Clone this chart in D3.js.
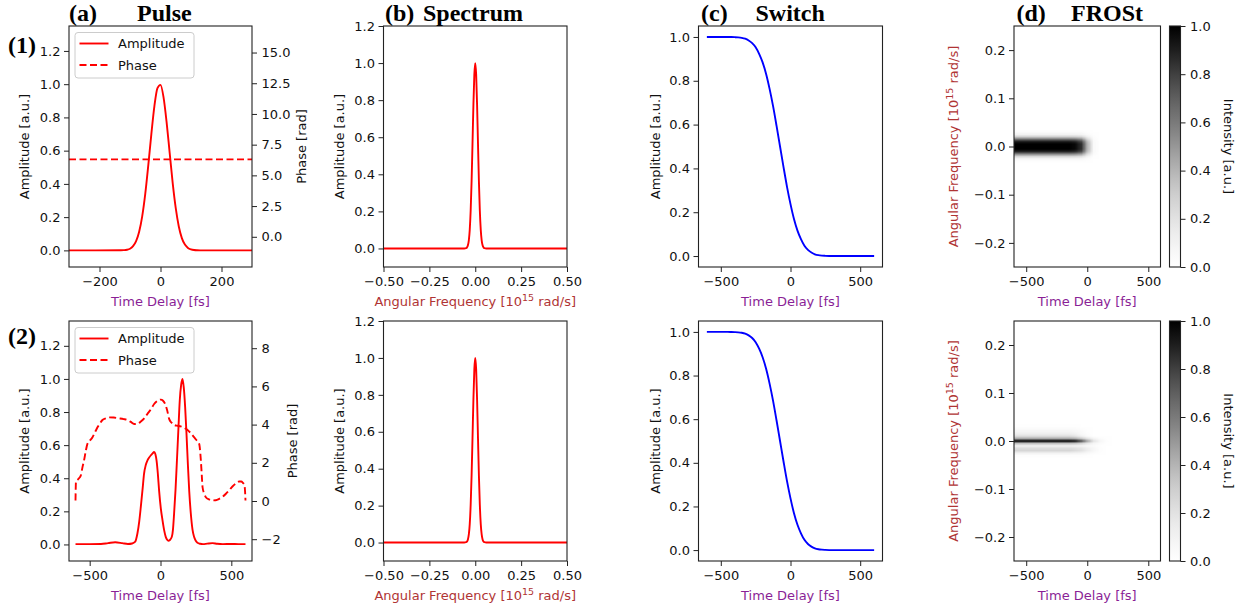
<!DOCTYPE html>
<html>
<head>
<meta charset="utf-8">
<script src="https://cdnjs.cloudflare.com/ajax/libs/d3/7.8.5/d3.min.js"></script>
<style>
  body { margin: 0; background: #fff; }
  svg text { font-family: "DejaVu Sans", sans-serif; }
  .tick text { font-size: 13px; fill: #111; }
  .tick line { stroke: #222; stroke-width: 1; }
  .title { font-family: "Liberation Serif", "Times New Roman", serif !important; font-weight: bold; font-size: 24px; }
</style>
</head>
<body>
<svg id="fig" width="1243" height="613"></svg>
<script>
// ---- data ----
const pulse1Time = [-300, -130, -120, -110, -100, -90, -80, -70, -60, -50, -40, -30, -20, -10, 0, 10, 20, 30, 40, 50, 60, 70, 80, 90, 100, 110, 120, 130, 300]
const pulse1Amp = [0, 0.0004, 0.0013, 0.0037, 0.010, 0.025, 0.055, 0.112, 0.205, 0.340, 0.513, 0.700, 0.868, 0.976, 0.996, 0.921, 0.772, 0.588, 0.405, 0.254, 0.144, 0.074, 0.035, 0.015, 0.006, 0.002, 0.0006, 0.0002, 0]
const phase1Time = [-300, 300]
const phase1 = [6.3, 6.3]

const pulse2Time = [-600, -500, -420, -370, -320, -270, -230, -200, -180, -163, -150, -139, -127, -116, -104, -92, -80, -68, -56, -45, -36, -28, -19, -10, 2, 14, 26, 37, 47, 56, 66, 80, 88, 96, 106, 115, 126, 136, 146, 155, 164, 174, 184, 193, 203, 214, 226, 237, 249, 261, 280, 300, 330, 367, 400, 440, 500, 550, 600]
const pulse2Amp = [0.002, 0.002, 0.003, 0.008, 0.013, 0.008, 0.003, 0.006, 0.015, 0.066, 0.14, 0.227, 0.33, 0.428, 0.48, 0.508, 0.525, 0.539, 0.55, 0.559, 0.545, 0.508, 0.43, 0.327, 0.22, 0.147, 0.085, 0.046, 0.028, 0.022, 0.027, 0.046, 0.09, 0.187, 0.33, 0.489, 0.69, 0.87, 0.965, 1.0, 0.95, 0.83, 0.66, 0.489, 0.32, 0.187, 0.09, 0.046, 0.022, 0.01, 0.004, 0.002, 0.005, 0.008, 0.004, 0.002, 0.003, 0.002, 0.002]
const phase2Time = [-600, -597, -580, -563, -550, -540, -528, -516, -500, -480, -462, -445, -428, -410, -385, -363, -330, -292, -260, -233, -210, -186, -162, -139, -115, -92, -68, -45, -20, 2, 18, 33, 47, 61, 78, 96, 120, 143, 167, 191, 214, 237, 255, 273, 280, 285, 291, 297, 308, 320, 343, 367, 390, 414, 438, 462, 485, 508, 532, 555, 570, 582, 592, 597, 600]
const phase2 = [0.03, 0.98, 1.15, 1.33, 1.8, 2.12, 2.6, 2.99, 3.15, 3.34, 3.6, 3.86, 4.06, 4.24, 4.33, 4.38, 4.37, 4.33, 4.29, 4.24, 4.14, 4.03, 4.05, 4.16, 4.33, 4.56, 4.8, 5.08, 5.25, 5.31, 5.25, 5.08, 4.75, 4.3, 4.1, 3.98, 3.94, 3.91, 3.83, 3.72, 3.55, 3.34, 3.18, 2.99, 2.6, 2.12, 1.4, 0.72, 0.4, 0.2, 0.08, 0.03, 0.04, 0.11, 0.22, 0.38, 0.56, 0.76, 0.92, 1.02, 1.02, 0.95, 0.85, 0.5, 0.03]

const specFreq = [-0.5, -0.06, -0.05, -0.045, -0.04, -0.035, -0.03, -0.025, -0.02, -0.015, -0.01, -0.005, 0, 0.005, 0.01, 0.015, 0.02, 0.025, 0.03, 0.035, 0.04, 0.045, 0.05, 0.06, 0.5]
const spec1 = [0, 0, 0.0017, 0.0057, 0.017, 0.044, 0.10, 0.203, 0.36, 0.563, 0.775, 0.938, 1.0, 0.938, 0.775, 0.563, 0.36, 0.203, 0.10, 0.044, 0.017, 0.0057, 0.0017, 0, 0]
const spec2 = [0, 0, 0.0017, 0.0057, 0.017, 0.044, 0.10, 0.203, 0.36, 0.563, 0.775, 0.938, 1.0, 0.938, 0.775, 0.563, 0.36, 0.203, 0.10, 0.044, 0.017, 0.0057, 0.0017, 0, 0]

const switchTime = [-600, -500, -450, -425, -400, -375, -350, -325, -300, -275, -250, -225, -200, -175, -150, -125, -100, -75, -50, -25, 0, 25, 50, 75, 100, 125, 150, 175, 200, 225, 250, 300, 400, 500, 600]
const switch1 = [1, 1, 1, 0.9996, 0.999, 0.998, 0.996, 0.992, 0.984, 0.972, 0.953, 0.923, 0.884, 0.831, 0.763, 0.684, 0.594, 0.5, 0.406, 0.316, 0.237, 0.169, 0.116, 0.077, 0.047, 0.028, 0.016, 0.008, 0.004, 0.002, 0.001, 0, 0, 0, 0]
const switch2 = [1, 1, 1, 0.9996, 0.999, 0.998, 0.996, 0.992, 0.984, 0.972, 0.953, 0.923, 0.884, 0.831, 0.763, 0.684, 0.594, 0.5, 0.406, 0.316, 0.237, 0.169, 0.116, 0.077, 0.047, 0.028, 0.016, 0.008, 0.004, 0.002, 0.001, 0, 0, 0, 0]

// FROSt traces: rows = frequency (top to bottom), columns = time delay
const frostFreq = [0.035, 0.03, 0.025, 0.02, 0.015, 0.01, 0.005, 0, -0.005, -0.01, -0.015, -0.02, -0.025, -0.03, -0.035]
const frostTime1 = [-600, -550, -500, -450, -400, -350, -300, -250, -200, -150, -100, -50, 0, 50, 100, 150]
const frost1 = [
  [0, 0, 0, 0, 0, 0, 0, 0, 0, 0, 0, 0, 0, 0, 0, 0],
  [.03, .03, .03, .03, .03, .03, .03, .03, .03, .03, .03, .03, .01, 0, 0, 0],
  [.10, .10, .10, .10, .10, .10, .10, .10, .10, .10, .10, .09, .04, .01, 0, 0],
  [.30, .30, .30, .30, .30, .30, .30, .30, .30, .30, .29, .26, .12, .02, 0, 0],
  [.65, .65, .65, .65, .65, .65, .65, .65, .65, .65, .63, .55, .26, .03, 0, 0],
  [.92, .92, .92, .92, .92, .92, .92, .92, .92, .92, .89, .78, .37, .05, 0, 0],
  [1, 1, 1, 1, 1, 1, 1, 1, 1, 1, .97, .85, .40, .05, 0, 0],
  [1, 1, 1, 1, 1, 1, 1, 1, 1, 1, .97, .85, .40, .05, 0, 0],
  [1, 1, 1, 1, 1, 1, 1, 1, 1, 1, .97, .85, .40, .05, 0, 0],
  [.90, .90, .90, .90, .90, .90, .90, .90, .90, .90, .87, .77, .36, .05, 0, 0],
  [.60, .60, .60, .60, .60, .60, .60, .60, .60, .60, .58, .51, .24, .03, 0, 0],
  [.28, .28, .28, .28, .28, .28, .28, .28, .28, .28, .27, .24, .11, .01, 0, 0],
  [.08, .08, .08, .08, .08, .08, .08, .08, .08, .08, .08, .07, .03, 0, 0, 0],
  [.02, .02, .02, .02, .02, .02, .02, .02, .02, .02, .02, .02, .01, 0, 0, 0],
  [0, 0, 0, 0, 0, 0, 0, 0, 0, 0, 0, 0, 0, 0, 0, 0]
]
const frostTime2 = [-600, -550, -500, -450, -400, -350, -300, -250, -200, -150, -100, -50, 0, 50, 100, 150, 200, 250]
const frost2 = [
  [0, 0, 0, 0, 0, 0, 0, 0, 0, 0, 0, 0, 0, 0, 0, 0, 0, 0],
  [.01, .01, .01, .01, .01, .01, .01, .01, .01, .01, .01, 0, 0, 0, 0, 0, 0, 0],
  [.04, .04, .04, .04, .04, .04, .04, .04, .04, .04, .03, .02, .01, 0, 0, 0, 0, 0],
  [.08, .08, .08, .08, .08, .08, .08, .08, .08, .08, .06, .04, .01, 0, 0, 0, 0, 0],
  [.12, .12, .12, .12, .12, .12, .12, .12, .12, .12, .10, .05, .02, 0, 0, 0, 0, 0],
  [.22, .22, .22, .22, .22, .22, .22, .22, .22, .22, .18, .10, .03, 0, 0, 0, 0, 0],
  [.45, .45, .45, .45, .45, .45, .45, .45, .45, .45, .42, .33, .20, .09, .03, .01, 0, 0],
  [1, 1, 1, 1, 1, 1, 1, 1, 1, 1, .95, .75, .45, .20, .08, .02, 0, 0],
  [.35, .35, .35, .35, .35, .35, .35, .35, .35, .35, .33, .26, .16, .07, .03, .01, 0, 0],
  [.10, .10, .10, .10, .10, .10, .10, .10, .10, .10, .09, .08, .05, .03, .01, 0, 0, 0],
  [.22, .22, .22, .22, .22, .22, .22, .22, .22, .22, .20, .17, .11, .055, .02, 0, 0, 0],
  [.26, .26, .26, .26, .26, .26, .26, .26, .26, .26, .23, .20, .13, .065, .02, 0, 0, 0],
  [.10, .10, .10, .10, .10, .10, .10, .10, .10, .10, .09, .08, .05, .025, .01, 0, 0, 0],
  [.02, .02, .02, .02, .02, .02, .02, .02, .02, .02, .02, .02, .01, 0, 0, 0, 0, 0],
  [0, 0, 0, 0, 0, 0, 0, 0, 0, 0, 0, 0, 0, 0, 0, 0, 0, 0]
]

// tick labels
const ampTicks = [0, 0.2, 0.4, 0.6, 0.8, 1.0, 1.2]
const switchTicks = [0, 0.2, 0.4, 0.6, 0.8, 1.0]
const pulse1Ticks = [-200, 0, 200]
const delayTicks = [-500, 0, 500]
const phase1Ticks = [0, 2.5, 5, 7.5, 10, 12.5, 15]
const phase2Ticks = [-2, 0, 2, 4, 6, 8]
const freqTicks = [-0.5, -0.25, 0, 0.25, 0.5]
const frostFreqTicks = [-0.2, -0.1, 0, 0.1, 0.2]
const intensityTicks = [0, 0.2, 0.4, 0.6, 0.8, 1.0]

// ---- layout ----
const svg = d3.select("#fig")
const rowBox = [{ top: 26, bottom: 267 }, { top: 321, bottom: 561 }]
const colBox = { a: [69, 252], b: [383.5, 567], c: [698.5, 882.5], d: [1014, 1160.5], cb: [1169.5, 1180.5] }
const TIME_COLOR = "#8a1f96"
const FREQ_COLOR = "#b03434"
const greys = d3.interpolateGreys

function makeAxes(col, row, xDom, yDom) {
  const [l, r] = colBox[col]
  const { top, bottom } = rowBox[row]
  const x = d3.scaleLinear().domain(xDom).range([l, r])
  const y = d3.scaleLinear().domain(yDom).range([bottom, top])
  const id = `clip-${col}${row}`
  svg.append("clipPath").attr("id", id).append("rect")
    .attr("x", l).attr("y", top).attr("width", r - l).attr("height", bottom - top)
  const g = svg.append("g")
  const plot = g.append("g").attr("clip-path", `url(#${id})`)
  return { x, y, g, plot, l, r, top, bottom }
}

function spines(ax) {
  ax.g.append("rect").attr("x", ax.l).attr("y", ax.top)
    .attr("width", ax.r - ax.l).attr("height", ax.bottom - ax.top)
    .attr("fill", "none").attr("stroke", "#222").attr("stroke-width", 1.1)
}

function bottomAxis(ax, ticks, fmt) {
  ax.g.append("g").attr("transform", `translate(0,${ax.bottom})`)
    .call(d3.axisBottom(ax.x).tickValues(ticks).tickFormat(d3.format(fmt)).tickSize(5).tickPadding(4.5))
    .call(s => s.select(".domain").remove())
}

function leftAxis(ax, scale, ticks, fmt) {
  ax.g.append("g").attr("transform", `translate(${ax.l},0)`)
    .call(d3.axisLeft(scale).tickValues(ticks).tickFormat(d3.format(fmt)).tickSize(5).tickPadding(3.5))
    .call(s => s.select(".domain").remove())
}

function rightAxis(ax, scale, x0, ticks, fmt) {
  ax.g.append("g").attr("transform", `translate(${x0},0)`)
    .call(d3.axisRight(scale).tickValues(ticks).tickFormat(d3.format(fmt)).tickSize(5).tickPadding(4.5))
    .call(s => s.select(".domain").remove())
}

function vLabel(x, y, text, color, rot) {
  return svg.append("text").attr("transform", `translate(${x},${y}) rotate(${rot || -90})`)
    .attr("text-anchor", "middle").attr("font-size", 13).attr("fill", color || "#111").text(text)
}

function hLabel(x, y, text, color) {
  return svg.append("text").attr("x", x).attr("y", y).attr("text-anchor", "middle")
    .attr("font-size", 13).attr("fill", color || "#111").text(text)
}

// "Angular Frequency [10^15 rad/s]" with a real superscript
function freqLabel(t) {
  t.text("Angular Frequency [10")
  t.append("tspan").attr("dy", -5).attr("font-size", 9.5).text("15")
  t.append("tspan").attr("dy", 5).attr("font-size", 13).text(" rad/s]")
}

function drawLine(ax, xs, ys, yScale, color, dash) {
  const pts = xs.map((d, i) => [d, ys[i]])
  ax.plot.append("path").datum(pts)
    .attr("fill", "none").attr("stroke", color).attr("stroke-width", 1.9)
    .attr("stroke-dasharray", dash || null)
    .attr("d", d3.line().x(d => ax.x(d[0])).y(d => yScale(d[1])).curve(d3.curveMonotoneX))
}

function legend(ax) {
  const bx = ax.l + 6, by = ax.top + 6.5
  const lg = ax.g.append("g")
  lg.append("rect").attr("x", bx).attr("y", by).attr("width", 119).attr("height", 45.5)
    .attr("rx", 3).attr("fill", "#fff").attr("fill-opacity", 0.8).attr("stroke", "#ccc")
  const items = [["Amplitude", null], ["Phase", "7,3.5"]]
  items.forEach(([name, dash], i) => {
    const yy = by + 11 + i * 21.5
    lg.append("line").attr("x1", bx + 4.5).attr("x2", bx + 33.5).attr("y1", yy).attr("y2", yy)
      .attr("stroke", "red").attr("stroke-width", 1.9).attr("stroke-dasharray", dash)
    lg.append("text").attr("x", bx + 43).attr("y", yy).attr("dy", "0.35em")
      .attr("font-size", 13).attr("fill", "#111").text(name)
  })
}

function drawFrost(ax, times, freqs, grid) {
  const cv = document.createElement("canvas")
  cv.width = times.length
  cv.height = freqs.length
  const ctx = cv.getContext("2d")
  const img = ctx.createImageData(cv.width, cv.height)
  grid.forEach((row, j) => row.forEach((v, i) => {
    const c = d3.rgb(greys(v))
    const k = 4 * (j * cv.width + i)
    img.data[k] = c.r; img.data[k + 1] = c.g; img.data[k + 2] = c.b; img.data[k + 3] = 255
  }))
  ctx.putImageData(img, 0, 0)
  const dt = times[1] - times[0], df = freqs[0] - freqs[1]
  const x0 = ax.x(times[0] - dt / 2), x1 = ax.x(times[times.length - 1] + dt / 2)
  const y0 = ax.y(freqs[0] + df / 2), y1 = ax.y(freqs[freqs.length - 1] - df / 2)
  ax.plot.append("image").attr("href", cv.toDataURL()).attr("preserveAspectRatio", "none")
    .attr("x", x0).attr("y", y0).attr("width", x1 - x0).attr("height", y1 - y0)
}

function colorbar(row, gradId) {
  const [l, r] = colBox.cb
  const { top, bottom } = rowBox[row]
  const grad = svg.append("defs").append("linearGradient").attr("id", gradId)
    .attr("x1", 0).attr("y1", 1).attr("x2", 0).attr("y2", 0)
  d3.range(0, 1.0001, 0.05).forEach(t => grad.append("stop").attr("offset", t).attr("stop-color", greys(t)))
  svg.append("rect").attr("x", l).attr("y", top).attr("width", r - l).attr("height", bottom - top)
    .attr("fill", `url(#${gradId})`).attr("stroke", "#222").attr("stroke-width", 1.1)
  const s = d3.scaleLinear().domain([0, 1]).range([bottom, top])
  svg.append("g").attr("transform", `translate(${r},0)`)
    .call(d3.axisRight(s).tickValues(intensityTicks).tickFormat(d3.format(".1f")).tickSize(5).tickPadding(4.5))
    .call(g => g.select(".domain").remove())
  vLabel(1224, (top + bottom) / 2, "Intensity [a.u.]", "#111", 90)
}

// ---- column (a): pulse ----
const pulseData = [
  { t: pulse1Time, a: pulse1Amp, pt: phase1Time, p: phase1, xDom: [-300, 300], xt: pulse1Ticks, pDom: [-2.46, 17.16], ptk: phase1Ticks, pf: ".1f", rl: 54 },
  { t: pulse2Time, a: pulse2Amp, pt: phase2Time, p: phase2, xDom: [-646, 646], xt: delayTicks, pDom: [-Math.PI, 3 * Math.PI], ptk: phase2Ticks, pf: "d", rl: 45 }
]
pulseData.forEach((d, row) => {
  const ax = makeAxes("a", row, d.xDom, [-0.1, 1.35])
  const yP = d3.scaleLinear().domain(d.pDom).range([ax.bottom, ax.top])
  drawLine(ax, d.t, d.a, ax.y, "red")
  drawLine(ax, d.pt, d.p, yP, "red", "7,3.5")
  spines(ax)
  bottomAxis(ax, d.xt, "d")
  leftAxis(ax, ax.y, ampTicks, ".1f")
  rightAxis(ax, yP, ax.r, d.ptk, d.pf)
  legend(ax)
  hLabel((ax.l + ax.r) / 2, ax.bottom + 39, "Time Delay [fs]", TIME_COLOR)
  vLabel(ax.l - 40.5, (ax.top + ax.bottom) / 2, "Amplitude [a.u.]")
  vLabel(ax.r + d.rl, (ax.top + ax.bottom) / 2, "Phase [rad]")
})

// ---- column (b): spectrum ----
;[spec1, spec2].forEach((vals, row) => {
  const ax = makeAxes("b", row, [-0.5, 0.5], [-0.1, 1.2])
  drawLine(ax, specFreq, vals, ax.y, "red")
  spines(ax)
  bottomAxis(ax, freqTicks, ".2f")
  leftAxis(ax, ax.y, ampTicks, ".1f")
  freqLabel(hLabel((ax.l + ax.r) / 2, ax.bottom + 39, "", FREQ_COLOR))
  vLabel(ax.l - 39.5, (ax.top + ax.bottom) / 2, "Amplitude [a.u.]")
})

// ---- column (c): switch ----
;[switch1, switch2].forEach((vals, row) => {
  const ax = makeAxes("c", row, [-660, 660], [-0.05, 1.05])
  drawLine(ax, switchTime, vals, ax.y, "blue")
  spines(ax)
  bottomAxis(ax, delayTicks, "d")
  leftAxis(ax, ax.y, switchTicks, ".1f")
  hLabel((ax.l + ax.r) / 2, ax.bottom + 39, "Time Delay [fs]", TIME_COLOR)
  vLabel(ax.l - 39, (ax.top + ax.bottom) / 2, "Amplitude [a.u.]")
})

// ---- column (d): FROSt ----
;[[frostTime1, frost1], [frostTime2, frost2]].forEach(([times, grid], row) => {
  const ax = makeAxes("d", row, [-600, 600], [-0.25, 0.25])
  drawFrost(ax, times, frostFreq, grid)
  spines(ax)
  bottomAxis(ax, delayTicks, "d")
  leftAxis(ax, ax.y, frostFreqTicks, ".1f")
  hLabel((ax.l + ax.r) / 2, ax.bottom + 39, "Time Delay [fs]", TIME_COLOR)
  freqLabel(vLabel(ax.l - 56, (ax.top + ax.bottom) / 2, "", FREQ_COLOR))
  colorbar(row, `cbar${row}`)
})

// ---- titles and row labels ----
const titles = [["(a)", 69], ["Pulse", 137], ["(b)", 385], ["Spectrum", 423], ["(c)", 701], ["Switch", 755.5], ["(d)", 1016.5], ["FROSt", 1071]]
titles.forEach(([t, x]) => svg.append("text").attr("class", "title").attr("x", x).attr("y", 20.5).text(t))
;[["(1)", 53], ["(2)", 344]].forEach(([t, y]) => svg.append("text").attr("class", "title").attr("x", 8).attr("y", y).text(t))
</script>
</body>
</html>
